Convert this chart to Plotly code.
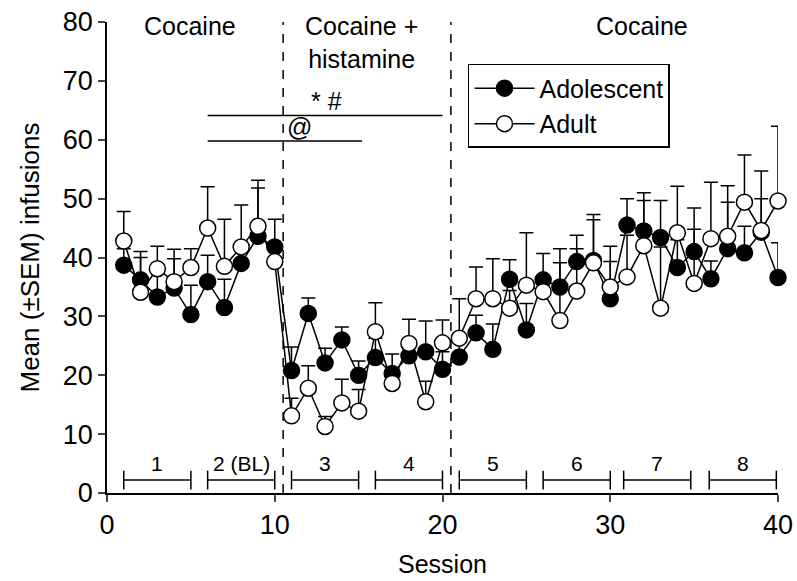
import plotly.graph_objects as go

sessions = list(range(1, 41))

adolescent = [38.7, 36.2, 33.3, 34.8, 30.3, 35.9, 31.5, 39.0, 43.6, 41.8,
              20.8, 30.5, 22.1, 26.0, 20.0, 23.0, 20.3, 23.3, 24.0, 21.0,
              23.1, 27.2, 24.4, 36.3, 27.7, 36.2, 35.0, 39.3, 39.5, 33.0,
              45.5, 44.5, 43.4, 38.3, 41.0, 36.4, 41.5, 40.8, 44.3, 36.6]
adolescent_sem = [2.8, 4.8, 4.5, 5.0, 5.0, 4.5, 4.8, 2.5, 8.2, 4.7,
                  4.0, 2.6, 2.5, 2.2, 2.4, 3.3, 3.3, 2.5, 5.2, 3.0,
                  2.5, 3.0, 4.3, 3.3, 4.5, 4.5, 4.1, 4.5, 6.9, 6.3,
                  4.5, 6.5, 6.3, 4.7, 7.4, 3.0, 7.9, 4.5, 5.7, 5.9]

adult = [42.8, 34.1, 38.1, 35.9, 38.3, 45.0, 38.5, 41.8, 45.3, 39.3,
         13.1, 17.8, 11.3, 15.3, 13.9, 27.4, 18.6, 25.4, 15.5, 25.5,
         26.3, 33.0, 33.0, 31.4, 35.3, 34.2, 29.3, 34.3, 39.1, 35.0,
         36.7, 42.0, 31.4, 44.2, 35.6, 43.2, 43.6, 49.4, 44.6, 49.6]
adult_sem = [5.0, 5.9, 3.8, 5.5, 3.2, 7.0, 8.0, 7.1, 7.8, 2.0,
             3.0, 3.8, 1.7, 4.0, 3.7, 4.9, 2.5, 4.1, 3.5, 3.9,
             6.7, 5.4, 6.8, 3.0, 8.9, 2.0, 12.2, 7.2, 8.2, 6.9,
             7.1, 7.7, 10.4, 7.9, 9.2, 9.6, 8.6, 8.0, 10.1, 12.7]

phase_labels = ["Cocaine", "Cocaine +<br>histamine", "Cocaine"]
phase_x = [4.95, 15.2, 31.9]
phase_bounds = [10.5, 20.5]

block_labels = ["1", "2 (BL)", "3", "4", "5", "6", "7", "8"]
block_start = [1, 6, 11, 16, 21, 26, 30.8, 35.9]
block_end = [5, 10, 15, 20, 25, 30, 34.8, 39.9]

sig_lines = [(6, 20, 64.1, "* #", 66.6, 13.1), (6, 15.2, 59.8, "@", 62.2, 11.5)]

FONT = "Liberation Sans, Arial, Helvetica, sans-serif"
fig = go.Figure()

fig.add_trace(go.Scatter(
    x=sessions, y=adolescent, mode="lines+markers", name="Adolescent",
    line=dict(color="black", width=1.5),
    marker=dict(symbol="circle", size=16, color="black", line=dict(color="black", width=1.5)),
    error_y=dict(type="data", array=adolescent_sem, arrayminus=[0]*40, symmetric=False,
                 color="black", thickness=1.5, width=7),
    cliponaxis=False,
))
fig.add_trace(go.Scatter(
    x=sessions, y=adult, mode="lines+markers", name="Adult",
    line=dict(color="black", width=1.5),
    marker=dict(symbol="circle", size=16, color="white", line=dict(color="black", width=1.5)),
    error_y=dict(type="data", array=adult_sem, arrayminus=[0]*40, symmetric=False,
                 color="black", thickness=1.5, width=7),
    cliponaxis=False,
))

shapes = []
for b in phase_bounds:
    shapes.append(dict(type="line", xref="x", yref="y", x0=b, x1=b, y0=0, y1=80,
                       line=dict(color="black", width=1.5, dash="dash")))
for s0, s1 in zip(block_start, block_end):
    shapes.append(dict(type="line", xref="x", yref="y", x0=s0, x1=s1, y0=2.2, y1=2.2,
                       line=dict(color="black", width=1.5)))
    for xv in (s0, s1):
        shapes.append(dict(type="line", xref="x", yref="y", x0=xv, x1=xv, y0=0.6, y1=3.8,
                           line=dict(color="black", width=1.5)))
annotations = []
for sx0, sx1, sy, txt, ty, tx in sig_lines:
    shapes.append(dict(type="line", xref="x", yref="y", x0=sx0, x1=sx1, y0=sy, y1=sy,
                       line=dict(color="black", width=1.5)))
    annotations.append(dict(x=tx, y=ty, xref="x", yref="y", text=txt, showarrow=False,
                            font=dict(size=25, color="black", family=FONT)))
for lbl, s0, s1 in zip(block_labels, block_start, block_end):
    annotations.append(dict(x=(s0 + s1) / 2, y=5.0, xref="x", yref="y", text=lbl,
                            showarrow=False, font=dict(size=21, color="black", family=FONT)))
for lbl, px in zip(phase_labels, phase_x):
    annotations.append(dict(x=px, y=1.026, xref="x", yref="paper", text=lbl, showarrow=False,
                            yanchor="top", font=dict(size=25, color="black", family=FONT)))

fig.update_layout(
    width=797, height=581,
    margin=dict(l=107, r=19, t=22, b=88, autoexpand=False),
    paper_bgcolor="white", plot_bgcolor="white",
    font=dict(family=FONT, size=24, color="black"),
    shapes=shapes, annotations=annotations,
    showlegend=True,
    legend=dict(x=0.538, y=0.911, xanchor="left", yanchor="top",
                bordercolor="black", borderwidth=1.5, bgcolor="white",
                font=dict(size=25, family=FONT), itemwidth=60,
                tracegroupgap=0),
)
fig.update_xaxes(range=[0, 40], tickvals=[0, 10, 20, 30, 40], ticks="outside", ticklen=7,
                 tickwidth=1.5, showline=True, linecolor="black", linewidth=1.5,
                 showgrid=False, zeroline=False, automargin=False,
                 title=dict(text="Session", standoff=16, font=dict(size=25)),
                 tickfont=dict(size=27))
fig.update_yaxes(range=[0, 80], tickvals=list(range(0, 81, 10)), ticks="outside", ticklen=7,
                 tickwidth=1.5, showline=True, linecolor="black", linewidth=1.5,
                 showgrid=False, zeroline=False, automargin=False,
                 title=dict(text="Mean (±SEM) infusions", standoff=16, font=dict(size=26)),
                 tickfont=dict(size=27))

fig.write_html("out.html", config={"displayModeBar": False},
               post_script="document.body.style.margin='0';")
